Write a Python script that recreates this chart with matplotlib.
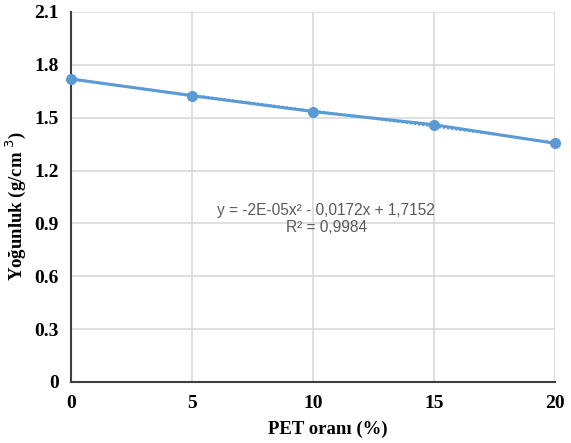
import numpy as np
import matplotlib
matplotlib.use("Agg")
import matplotlib.pyplot as plt

# data
pet = [0, 5, 10, 15, 20]
density = [1.72, 1.625, 1.535, 1.46, 1.355]
yticks = [0, 0.3, 0.6, 0.9, 1.2, 1.5, 1.8, 2.1]
ytick_labels = ["0", "0.3", "0.6", "0.9", "1.2", "1.5", "1.8", "2.1"]
xticks = [0, 5, 10, 15, 20]

blue = "#5b9bd5"
grid = "#d9d9d9"
serif = ["Liberation Serif", "DejaVu Serif"]

fig = plt.figure(figsize=(5.71, 4.43), dpi=100)
ax = fig.add_axes([71 / 571, 1 - 382 / 443, (555 - 71) / 571, (382 - 12) / 443])

# quadratic trendline (dotted, as in the spreadsheet)
coef = np.polyfit(pet, density, 2)
xs = np.linspace(0, 20, 100)
ax.plot(xs, np.polyval(coef, xs), color=blue, lw=1.5, ls=(0, (1, 1)), zorder=3)

ax.plot(pet, density, color=blue, lw=2.2, marker="o", ms=7, zorder=4, clip_on=False)

ax.set_xlim(0, 20)
ax.set_ylim(0, 2.1)
ax.set_xticks(xticks)
ax.set_yticks(yticks)
ax.set_yticklabels(ytick_labels)
ax.tick_params(length=0, pad=9)
for lab in ax.get_xticklabels() + ax.get_yticklabels():
    lab.set_family(serif)
    lab.set_fontweight("bold")
    lab.set_fontsize(14)

ax.grid(True, color=grid, lw=1.2)
ax.set_axisbelow(True)
ax.spines["top"].set_visible(False)
ax.spines["right"].set_visible(False)
for s in ("left", "bottom"):
    ax.spines[s].set_color("#404040")
    ax.spines[s].set_linewidth(1.5)

ax.text(10.54, 0.925, "y = -2E-05x² - 0,0172x + 1,7152\nR² = 0,9984",
        ha="center", va="center", fontsize=11.2, color="#595959",
        family="Liberation Sans", linespacing=1.1)

fig.text(328 / 571, 1 - 429 / 443, "PET oranı (%)", ha="center", va="center",
         fontsize=13.5, fontweight="bold", family=serif)
fig.text(16 / 571, 1 - 206 / 443, "Yoğunluk (g/cm $^{3}$)", ha="center", va="center",
         rotation=90, fontsize=13.5, fontweight="bold", family=serif)

fig.savefig("out.png", dpi=100)
